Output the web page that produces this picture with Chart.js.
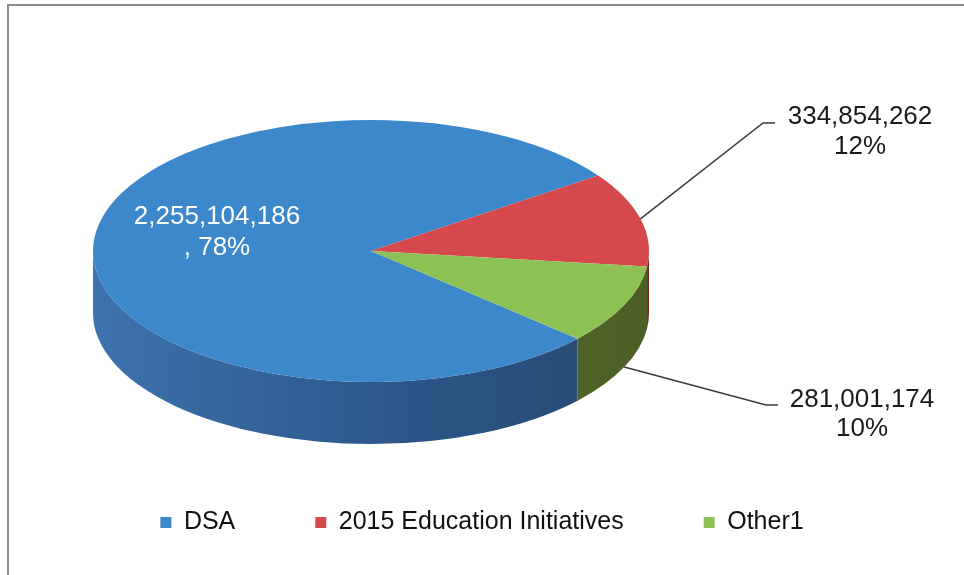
<!DOCTYPE html>
<html>
<head>
<meta charset="utf-8">
<script src="https://cdn.jsdelivr.net/npm/chart.js@4"></script>
<style>
  html, body { margin: 0; padding: 0; background: #fff; }
  #wrap { width: 964px; height: 575px; position: relative; }
</style>
</head>
<body>
<div id="wrap"><canvas id="pieChart"></canvas></div>
<script>
// data
const categories = ["DSA", "2015 Education Initiatives", "Other1"];
const amounts = [2255104186, 334854262, 281001174];

// styling
const topColors = ["#3d87cb", "#d5484b", "#8dc153"];
const sideColors = [
  ["#3c72ad", "#2b5586", "#27496f"],
  ["#a03335", "#8a2a2c", "#7a2426"],
  ["#66802f", "#566c2a", "#4b5f25"],
];
const labelColors = ["#ffffff", "#1a1a1a", "#1a1a1a"];

const FONT = "'Liberation Sans', Arial, sans-serif";
Chart.defaults.font.family = FONT;

// percentages that add up to 100 (largest remainder, like Excel shows them)
function percents(vals) {
  const total = vals.reduce((s, v) => s + v, 0);
  const raw = vals.map((v) => v / total * 100);
  const out = raw.map(Math.floor);
  let left = 100 - out.reduce((s, v) => s + v, 0);
  const order = raw.map((r, i) => i).sort((a, b) => (raw[b] % 1) - (raw[a] % 1));
  for (let k = 0; k < left; k++) out[order[k]]++;
  return out;
}

// fake 3D: squash the pie into an ellipse and draw a front wall under it
const pie3d = {
  id: "pie3d",
  beforeDraw(chart) {
    const ctx = chart.ctx;
    ctx.save();
    ctx.strokeStyle = "#8c8c8c";
    ctx.lineWidth = 2;
    ctx.beginPath();
    ctx.moveTo(8, chart.height);
    ctx.lineTo(8, 5);
    ctx.lineTo(chart.width, 5);
    ctx.stroke();
    ctx.restore();
  },
  beforeDatasetsDraw(chart, args, opts) {
    const ctx = chart.ctx;
    const arcs = chart.getDatasetMeta(0).data;
    const { cx, cy, rx, ry, depth } = opts;

    ctx.save();
    arcs.forEach((arc, i) => {
      const g = ctx.createLinearGradient(cx - rx, 0, cx + rx, 0);
      g.addColorStop(0, sideColors[i][0]);
      g.addColorStop(0.6, sideColors[i][1]);
      g.addColorStop(1, sideColors[i][2]);
      for (let k = -1; k <= 2; k++) {
        const lo = Math.max(arc.startAngle, k * 2 * Math.PI);
        const hi = Math.min(arc.endAngle, k * 2 * Math.PI + Math.PI);
        if (hi <= lo) continue;
        ctx.beginPath();
        ctx.ellipse(cx, cy, rx, ry, 0, lo, hi, false);
        ctx.ellipse(cx, cy + depth, rx, ry, 0, hi, lo, true);
        ctx.closePath();
        ctx.fillStyle = g;
        ctx.fill();
      }
    });
    ctx.restore();

    // top face: the library draws the arcs through this transform
    const a0 = arcs[0];
    const R = a0.outerRadius;
    ctx.save();
    ctx.translate(cx, cy);
    ctx.scale(rx / R, ry / R);
    ctx.translate(-a0.x, -a0.y);
  },
  afterDatasetsDraw(chart) {
    chart.ctx.restore();
  },
  afterDraw(chart, args, opts) {
    const ctx = chart.ctx;
    const arcs = chart.getDatasetMeta(0).data;
    const { cx, cy, rx, ry, depth, labels } = opts;
    const pcts = percents(amounts);

    ctx.save();
    ctx.font = "26px " + FONT;
    ctx.textAlign = "center";
    ctx.textBaseline = "middle";
    arcs.forEach((arc, i) => {
      const lab = labels[i];
      const pct = pcts[i] + "%";
      const num = amounts[i].toLocaleString("en-US");
      if (lab.elbow) {
        const m = (arc.startAngle + arc.endAngle) / 2;
        let sx = cx + rx * Math.cos(m);
        let sy = cy + ry * Math.sin(m);
        if (Math.sin(m) > 0) sy += depth;
        ctx.strokeStyle = "#3a3a3a";
        ctx.lineWidth = 1.5;
        ctx.beginPath();
        ctx.moveTo(sx, sy);
        ctx.lineTo(lab.elbow.x, lab.elbow.y);
        ctx.lineTo(lab.elbow.x + 12, lab.elbow.y);
        ctx.stroke();
      }
      ctx.fillStyle = labelColors[i];
      ctx.fillText(num, lab.x, lab.y);
      ctx.fillText((lab.comma ? ", " : "") + pct, lab.x, lab.y + lab.gap);
    });
    ctx.restore();
  }
};

new Chart(document.getElementById("pieChart"), {
  type: "pie",
  data: {
    labels: categories,
    datasets: [{
      data: amounts,
      backgroundColor: topColors,
      borderWidth: 0,
      clip: false,
    }],
  },
  options: {
    responsive: true,
    maintainAspectRatio: false,
    animation: false,
    events: [],
    rotation: 132,
    layout: { padding: { bottom: 30 } },
    plugins: {
      tooltip: { enabled: false },
      legend: {
        position: "bottom",
        labels: {
          boxWidth: 11,
          boxHeight: 11,
          padding: 80,
          color: "#111111",
          font: { size: 25, family: FONT },
        },
      },
      pie3d: {
        cx: 371, cy: 251, rx: 278, ry: 131, depth: 62,
        labels: [
          { x: 217, y: 217, gap: 31, comma: true },
          { x: 860, y: 117, gap: 30, elbow: { x: 763, y: 123 } },
          { x: 862, y: 400, gap: 29, elbow: { x: 766, y: 405 } },
        ],
      },
    },
  },
  plugins: [pie3d],
});
</script>
</body>
</html>
